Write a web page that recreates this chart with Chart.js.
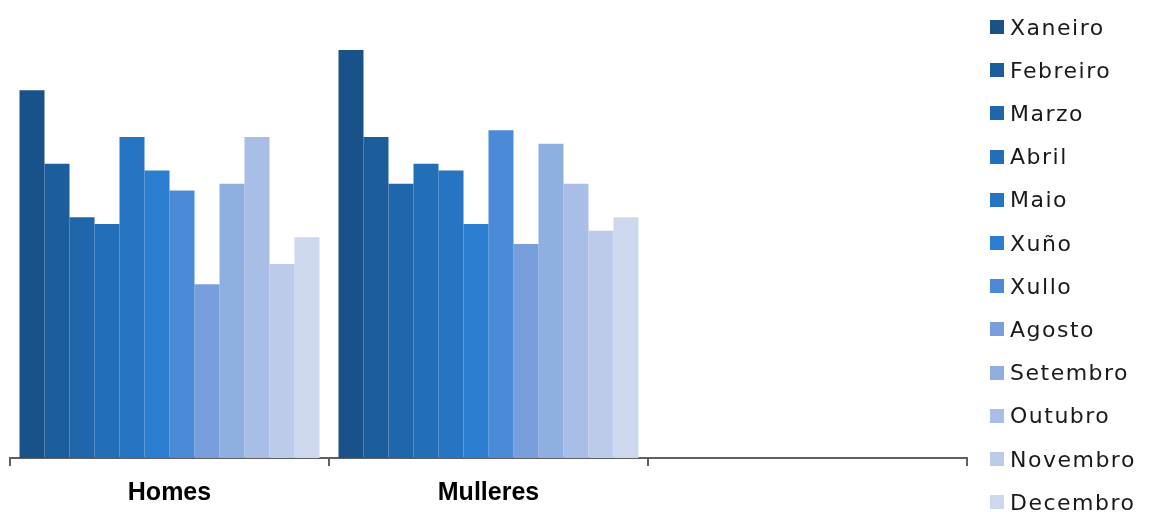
<!DOCTYPE html>
<html>
<head>
<meta charset="utf-8">
<script src="https://cdn.jsdelivr.net/npm/chart.js@4/dist/chart.umd.min.js"></script>
<style>
  html, body { margin: 0; padding: 0; background: #fff; }
  #wrap { position: relative; width: 1150px; height: 512px; overflow: hidden; }
  #chart { display: block; }
  #legend { position: absolute; left: 990px; top: 0; font-family: "DejaVu Sans", sans-serif; font-size: 22px; letter-spacing: 1.5px; color: #1a1a1a; }
  .item { position: absolute; left: 0; height: 28px; display: flex; align-items: center; white-space: nowrap; }
  .box { width: 14px; height: 14px; margin-right: 6px; flex: none; }
</style>
</head>
<body>
<div id="wrap">
  <canvas id="chart" width="1150" height="520"></canvas>
  <div id="legend"></div>
</div>
<script>
// categories on the x axis (third one is empty in the original)
const categories = ["Homes", "Mulleres", ""];
const months = ["Xaneiro", "Febreiro", "Marzo", "Abril", "Maio", "Xuño",
  "Xullo", "Agosto", "Setembro", "Outubro", "Novembro", "Decembro"];

// values per month
const homes    = [55, 44, 36, 35, 48, 43, 40, 26, 41, 48, 29, 33];
const mulleres = [61, 48, 41, 44, 43, 35, 49, 32, 47, 41, 34, 36];

const palette = ["#195189", "#1c5d9c", "#2066aa", "#226eb7", "#2575c2", "#2a7dcf",
  "#4a8ad7", "#789fdb", "#8fafe1", "#a9bee6", "#bccbea", "#cdd8ef"];

const datasets = months.map((m, i) => ({
  label: m,
  data: [homes[i], mulleres[i], null],
  backgroundColor: palette[i],
  borderWidth: 0,
  categoryPercentage: 0.9404,
  barPercentage: 1.0
}));

const ctx = document.getElementById("chart").getContext("2d");
const chart = new Chart(ctx, {
  type: "bar",
  data: { labels: categories, datasets: datasets },
  options: {
    responsive: false,
    animation: false,
    layout: { padding: { left: 10, right: 183, top: 10, bottom: 0 } },
    plugins: { legend: { display: false }, tooltip: { enabled: false } },
    scales: {
      x: {
        offset: true,
        border: { display: true, color: "#606060", width: 2 },
        grid: {
          offset: true,
          drawOnChartArea: false,
          drawTicks: true,
          tickLength: 8,
          color: "#606060",
          lineWidth: 2
        },
        ticks: {
          padding: 14.5,
          color: "#000",
          font: { family: "Liberation Sans", size: 25, weight: "bold", lineHeight: 1.0 }
        }
      },
      y: {
        display: false,
        min: 0,
        max: 67
      }
    }
  }
});

// legend built from the chart's datasets
const legend = document.getElementById("legend");
chart.data.datasets.forEach((ds, i) => {
  const row = document.createElement("div");
  row.className = "item";
  row.style.top = (27 + i * 43.2 - 14) + "px";
  const box = document.createElement("span");
  box.className = "box";
  box.style.background = ds.backgroundColor;
  const txt = document.createElement("span");
  txt.textContent = ds.label;
  row.appendChild(box);
  row.appendChild(txt);
  legend.appendChild(row);
});
</script>
</body>
</html>
